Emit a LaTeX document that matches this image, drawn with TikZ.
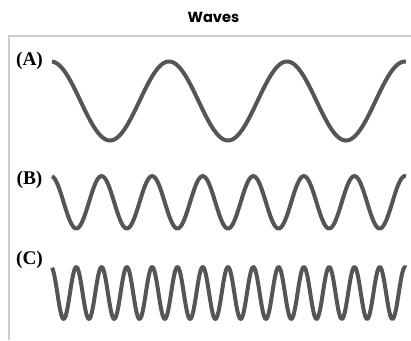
\documentclass[tikz,border=0pt]{standalone}
\usepackage{fontspec}
\setmainfont{Liberation Serif}
\newfontfamily\titelfont{Poppins}
\usepackage{xcolor}
\usepackage{tikz}
\definecolor{wellengrau}{HTML}{555555}
\definecolor{rahmengrau}{HTML}{CCCCCC}
\tikzset{
    welle/.style  = {draw=wellengrau, line width=3pt, line cap=butt, line join=round},
    rahmen/.style = {draw=rahmengrau, line width=1.1pt},
    marke/.style  = {font=\fontsize{14.5}{16}\selectfont\bfseries, anchor=base, inner sep=0pt},
    titel/.style  = {font=\titelfont\fontsize{11}{13}\selectfont\bfseries, anchor=base, inner sep=0pt}
}

\begin{document}
\begin{tikzpicture}[x=0.75pt, y=-0.75pt]
        \useasboundingbox (0,0) rectangle (411,340);

        % Ueberschrift
        \node[titel] (titel) at (213.5,22.7) {Waves};

        % Rahmen oben und links
        \draw[rahmen] (9,340) -- (9,36) -- (411,36);

        % Wellen: Mitte, Amplitude, Periode
        \foreach \lab/\mitte/\amp/\per/\yb in {A/101/39.5/118/65.5,
                                               B/202.3/26.2/50.57/184.5,
                                               C/293/26/25.29/264.5} {
            \node[marke] (lab\lab) at (29.5,\yb) {(\lab)};
            \draw[welle] plot[domain=52:406, samples=420, smooth]
                (\x, {\mitte - \amp*cos(((\x-51)/\per)*360)});
        }
    \end{tikzpicture}
\end{document}
